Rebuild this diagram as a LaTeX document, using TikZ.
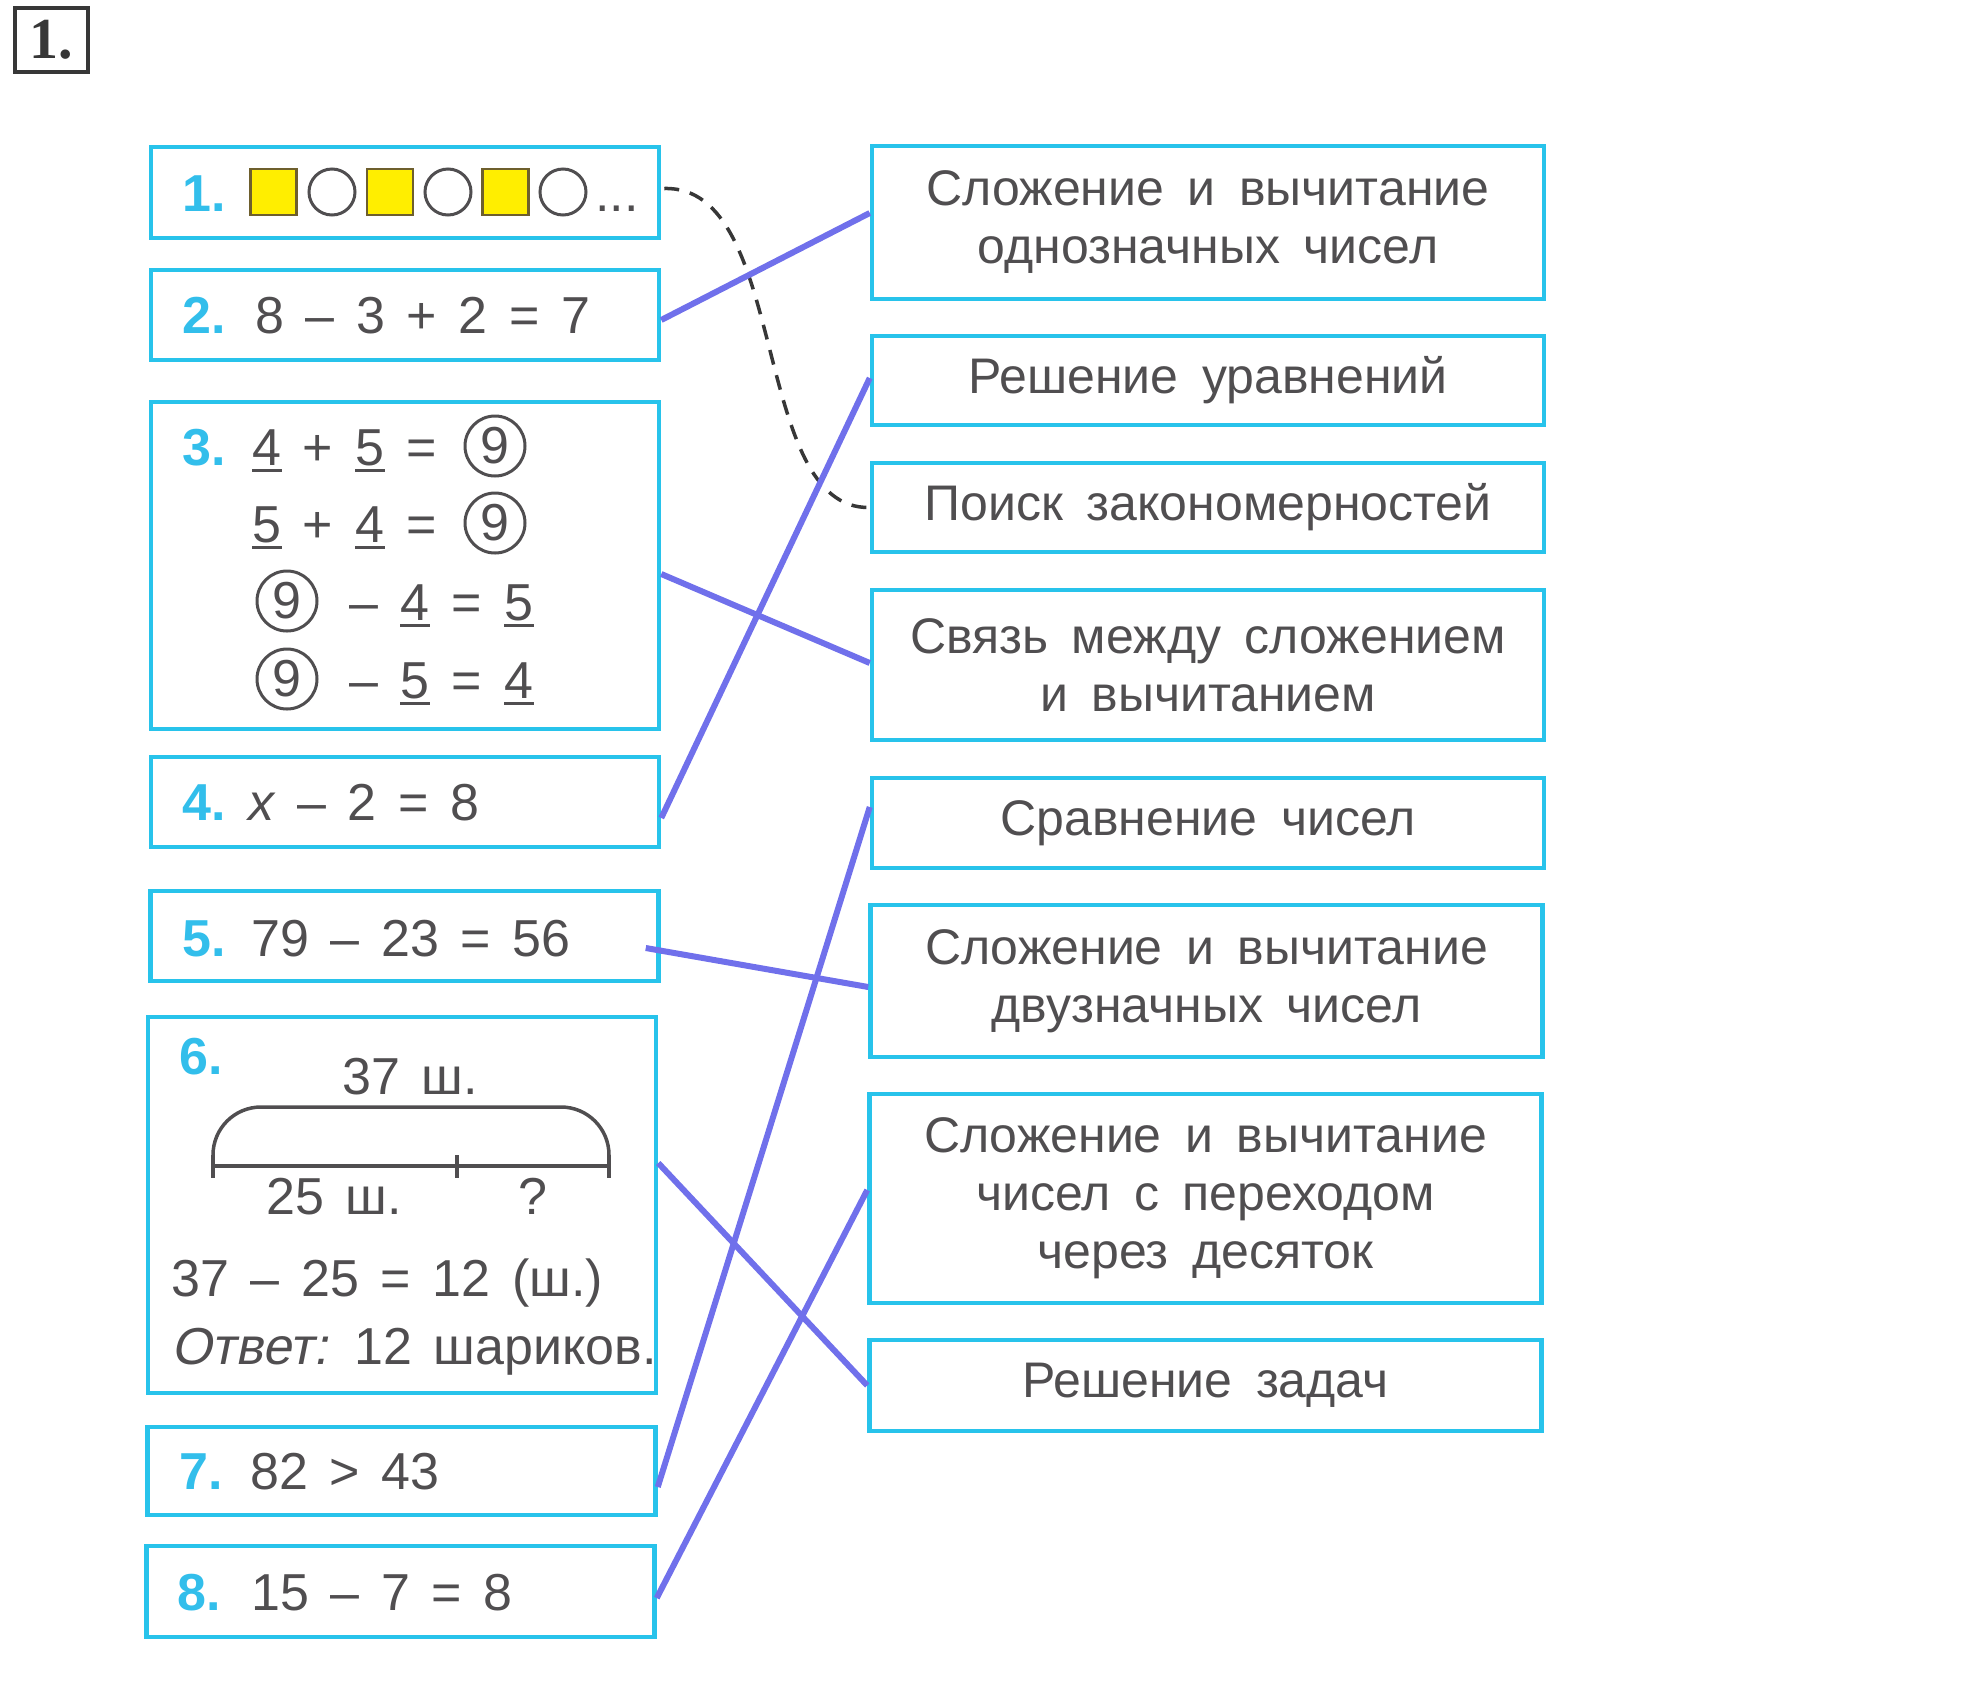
\documentclass[tikz,border=0pt]{standalone}
\usepackage{fontspec}
\setmainfont[WordSpace=1.5]{Liberation Sans}
\newfontfamily\topicfont[WordSpace=1.7]{Liberation Sans}
\newfontfamily\slantfont[FakeSlant=0.2, WordSpace=1.5]{Liberation Sans}
\newfontfamily\serifnum{Liberation Serif}
\usetikzlibrary{calc}

\definecolor{boxcyan}{RGB}{40,195,235}
\definecolor{numcyan}{RGB}{50,190,235}
\definecolor{inkgray}{RGB}{80,78,80}
\definecolor{darkink}{RGB}{55,55,55}
\definecolor{linkblue}{RGB}{112,112,235}
\definecolor{sqyellow}{RGB}{255,238,0}
\definecolor{sqedge}{RGB}{110,95,45}

\begin{document}
\begin{tikzpicture}[x=1pt, y=-1pt,
    lbox/.style={rectangle, draw=boxcyan, line width=4.5pt, minimum width=508pt, inner sep=0pt},
    rbox/.style={rectangle, draw=boxcyan, line width=4.5pt, minimum width=672pt, inner sep=0pt, align=center, text=inkgray, font=\topicfont\fontsize{50}{58}\selectfont},
    num/.style={anchor=base west, inner sep=0pt, text=numcyan, font=\bfseries\fontsize{52}{60}\selectfont},
    expr/.style={anchor=base west, inner sep=0pt, text=inkgray, font=\fontsize{52}{60}\selectfont},
    glyph/.style={anchor=base, inner sep=0pt, text=inkgray, font=\fontsize{52}{60}\selectfont},
    ring/.style={circle, draw=inkgray, line width=3pt, minimum size=60pt, inner sep=0pt, text=inkgray, font=\fontsize{52}{60}\selectfont},
    sq/.style={rectangle, draw=sqedge, fill=sqyellow, line width=2.5pt, minimum size=46pt, inner sep=0pt},
    ci/.style={circle, draw=inkgray, line width=3pt, minimum size=46pt, inner sep=0pt},
    uline/.style={draw=inkgray, line width=3pt},
    bar/.style={draw=inkgray, line width=3.5pt},
    link/.style={draw=linkblue, line width=6pt},
    hint/.style={draw=darkink, line width=3.5pt, dash pattern=on 15pt off 11pt}]
    \useasboundingbox (0,0) rectangle (1968,1690);

    \node[draw=darkink, line width=4.5pt, minimum width=73pt, minimum height=64pt, inner sep=0pt, text=darkink, font=\serifnum\bfseries\fontsize{58}{60}\selectfont] (task) at (51.5,40) {1.};

    % left column
    \node[lbox, minimum height=91pt]  (b1) at (405,192.5) {};
    \node[lbox, minimum height=90pt]  (b2) at (405,315) {};
    \node[lbox, minimum height=327pt] (b3) at (405,565.5) {};
    \node[lbox, minimum height=90pt]  (b4) at (405,802) {};
    \node[lbox, minimum height=90pt]  (b5) at (404.5,936) {};
    \node[lbox, minimum height=376pt] (b6) at (402,1205) {};
    \node[lbox, minimum height=88pt]  (b7) at (401.5,1471) {};
    \node[lbox, minimum height=91pt]  (b8) at (400.5,1591.5) {};

    % right column
    \node[rbox, minimum height=153pt] (r1) at (1208,222.5) {Сложение и вычитание\\однозначных чисел};
    \node[rbox, minimum height=89pt]  (r2) at (1208,380.5) {Решение уравнений};
    \node[rbox, minimum height=89pt]  (r3) at (1208,507.5) {Поиск закономерностей};
    \node[rbox, minimum height=150pt] (r4) at (1208,665) {Связь между сложением\\и вычитанием};
    \node[rbox, minimum height=90pt]  (r5) at (1208,823) {Сравнение чисел};
    \node[rbox, minimum height=152pt] (r6) at (1206.5,981) {Сложение и вычитание\\двузначных чисел};
    \node[rbox, minimum height=209pt] (r7) at (1205.5,1198.5) {Сложение и вычитание\\чисел с переходом\\через десяток};
    \node[rbox, minimum height=91pt]  (r8) at (1205.5,1385.5) {Решение задач};

    % 1
    \node[num] (n1) at (182,211) {1.};
    \node[sq] (s1) at (273.5,192) {};
    \node[ci] (c1) at (332,192) {};
    \node[sq] (s2) at (390,192) {};
    \node[ci] (c2) at (448,192) {};
    \node[sq] (s3) at (505.5,192) {};
    \node[ci] (c3) at (563,192) {};
    \node[expr] (dots) at (595,211) {...};

    % 2
    \node[num]  (n2) at (182,333) {2.};
    \node[expr] (e2) at (255,333) {8 – 3 + 2 = 7};

    % 3
    \node[num] (n3) at (182,465) {3.};
    \node[glyph] (a1) at (267,465) {4};
    \node[glyph] (a2) at (318,465) {+};
    \node[glyph] (a3) at (370,465) {5};
    \node[glyph] (a4) at (422,465) {=};
    \node[ring]  (a5) at (495,446) {9};
    \node[glyph] (b1g) at (267,542) {5};
    \node[glyph] (b2g) at (318,542) {+};
    \node[glyph] (b3g) at (370,542) {4};
    \node[glyph] (b4g) at (422,542) {=};
    \node[ring]  (b5g) at (495,523) {9};
    \node[ring]  (c1g) at (287,601) {9};
    \node[glyph] (c2g) at (364,620) {–};
    \node[glyph] (c3g) at (415,620) {4};
    \node[glyph] (c4g) at (467,620) {=};
    \node[glyph] (c5g) at (519,620) {5};
    \node[ring]  (d1g) at (287,679) {9};
    \node[glyph] (d2g) at (364,698) {–};
    \node[glyph] (d3g) at (415,698) {5};
    \node[glyph] (d4g) at (467,698) {=};
    \node[glyph] (d5g) at (519,698) {4};
    \foreach \n in {a1,a3,b1g,b3g,c3g,c5g,d3g,d5g}
        \draw[uline] ([yshift=-5pt]\n.base west) -- ([yshift=-5pt]\n.base east);

    % 4
    \node[num]  (n4) at (182,820) {4.};
    \node[expr] (e4) at (248,820) {\textit{x} – 2 = 8};

    % 5
    \node[num]  (n5) at (182,956) {5.};
    \node[expr] (e5) at (251,956) {79 – 23 = 56};

    % 6
    \node[num]   (n6)    at (179,1074) {6.};
    \node[glyph] (whole) at (410,1094) {37 ш.};
    \draw[bar, rounded corners=48pt] (213,1172) |- (411,1107) -| (609,1172);
    \draw[bar] (213,1166) -- (609,1166);
    \foreach \x in {213,457,609}
        \draw[bar] (\x,1155) -- (\x,1178);
    \node[glyph] (part)  at (334,1214) {25 ш.};
    \node[glyph] (rest)  at (533,1214) {?};
    \node[expr]  (calc6) at (171,1296) {37 – 25 = 12 (ш.)};
    \node[expr]  (ans6)  at (171,1364) {{\slantfont Ответ:} 12 шариков.};

    % 7
    \node[num]  (n7) at (179,1489) {7.};
    \node[expr] (e7) at (250,1489) {82 > 43};

    % 8
    \node[num]  (n8) at (177,1610) {8.};
    \node[expr] (e8) at (251,1610) {15 – 7 = 8};

    % matching lines
    \draw[hint] ($(b1.east)+(3,-4)$) .. controls (790,185) and (750,510) .. (r3.west);
    \draw[link] ($(b2.east)+(0,5)$)    -- ($(r1.west)+(0,-9.5)$);
    \draw[link] ($(b3.east)+(0,8.5)$)  -- ($(r4.west)+(0,-2)$);
    \draw[link] ($(b4.east)+(0,16)$)   -- ($(r2.west)+(0,-2.5)$);
    \draw[link] ($(b5.east)+(-15,12)$) -- ($(r6.west)+(0,6)$);
    \draw[link] ($(b6.east)+(0,-42)$)  -- (r8.west);
    \draw[link] ($(b7.east)+(0,16)$)   -- ($(r5.west)+(0,-16)$);
    \draw[link] ($(b8.east)+(0,6.5)$)  -- ($(r7.west)+(0,-8.5)$);
\end{tikzpicture}
\end{document}
